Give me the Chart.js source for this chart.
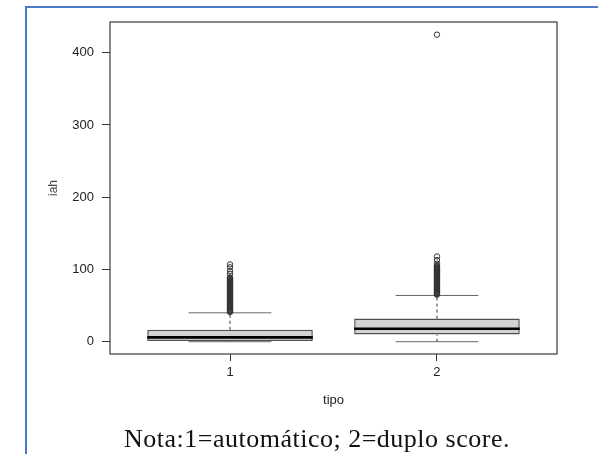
<!DOCTYPE html>
<html>
<head>
<meta charset="utf-8">
<script src="https://cdn.jsdelivr.net/npm/chart.js@4.4.0/dist/chart.umd.min.js"></script>
<style>
  html, body { margin: 0; padding: 0; background: #fff; }
  body { width: 598px; height: 454px; position: relative; overflow: hidden; }
  .frame { position: absolute; left: 25px; top: 6px; width: 600px; height: 460px;
           border-left: 2px solid #4a78cc; border-top: 2px solid #4a78cc; }
  #chart { position: absolute; left: 0; top: 0; }
  .nota { position: absolute; left: 0; width: 634px; top: 424px; text-align: center;
          font: 26px "Liberation Serif", serif; letter-spacing: 0.5px; color: #111; }
</style>
</head>
<body>
<div class="frame"></div>
<canvas id="chart" width="598" height="454"></canvas>
<div class="nota">Nota:1=automático; 2=duplo score.</div>
<script>
const categories = ['1', '2'];
const positions = [1, 2];
const whiskerLow = [0, 0];
const quart1 = [1, 10];
const medians = [6, 18];
const quart3 = [16.5, 32];
const whiskerHigh = [40, 64];
const outliers1 = [41, 42, 43, 44, 45, 46, 47, 48, 49, 50, 51, 52, 53, 54, 55, 56, 57, 58, 59, 60,
  61, 62, 63, 64, 65, 66, 67, 68, 69, 70, 71, 72, 73, 74, 75, 76, 77, 78, 79, 80,
  81, 82, 83, 84, 85, 86, 87, 88, 89, 94, 98, 103, 107];
const outliers2 = [65, 66, 67, 68, 69, 70, 71, 72, 73, 74, 75, 76, 77, 78, 79, 80, 81, 82, 83, 84,
  85, 86, 87, 88, 89, 90, 91, 92, 93, 94, 95, 96, 97, 98, 99, 100, 101, 102, 103, 104,
  105, 108, 113, 118, 425];
const yTicks = [0, 100, 200, 300, 400];

const boxHalf = 0.4;
const capHalf = 0.2;
const axisFont = { family: 'Liberation Sans', size: 13 };
const textColor = '#222';

// segments separated by a null point so each group is its own piece
const segs = (fn) => positions.flatMap((p, i) => [...fn(p, i), { x: p, y: null }]);

const medianData = segs((p, i) => [{ x: p - boxHalf, y: medians[i] }, { x: p + boxHalf, y: medians[i] }]);
const whiskerData = segs((p, i) => [
  { x: p, y: whiskerLow[i] }, { x: p, y: quart1[i] }, { x: p, y: null },
  { x: p, y: quart3[i] }, { x: p, y: whiskerHigh[i] }
]);
const capData = segs((p, i) => [
  { x: p - capHalf, y: whiskerLow[i] }, { x: p + capHalf, y: whiskerLow[i] }, { x: p, y: null },
  { x: p - capHalf, y: whiskerHigh[i] }, { x: p + capHalf, y: whiskerHigh[i] }
]);
const outlierData = [
  ...outliers1.map(v => ({ x: positions[0], y: v })),
  ...outliers2.map(v => ({ x: positions[1], y: v }))
];

const plotFrame = {
  id: 'plotFrame',
  afterDraw(chart) {
    const { ctx, chartArea: a } = chart;
    ctx.save();
    ctx.strokeStyle = '#3a3a3a';
    ctx.lineWidth = 1.2;
    ctx.strokeRect(a.left, a.top, a.right - a.left, a.bottom - a.top);
    ctx.restore();
  }
};

new Chart(document.getElementById('chart'), {
  type: 'scatter',
  data: {
    datasets: [
      {
        type: 'bar',
        data: positions.map((p, i) => ({ x: p, y: [quart1[i], quart3[i]] })),
        backgroundColor: '#d3d3d3',
        borderColor: '#505050',
        borderWidth: 1.5,
        borderSkipped: false,
        barPercentage: 0.8,
        categoryPercentage: 1,
        order: 5
      },
      {
        type: 'line', data: whiskerData, borderColor: '#333', borderWidth: 1,
        borderDash: [3, 3], pointRadius: 0, spanGaps: false, fill: false, order: 4
      },
      {
        type: 'line', data: capData, borderColor: '#666', borderWidth: 1,
        pointRadius: 0, spanGaps: false, fill: false, order: 3
      },
      {
        type: 'line', data: medianData, borderColor: '#000', borderWidth: 2.6,
        pointRadius: 0, spanGaps: false, fill: false, order: 1
      },
      {
        data: outlierData, pointStyle: 'circle', pointRadius: 2.7, borderWidth: 1,
        borderColor: '#333', backgroundColor: 'rgba(0,0,0,0)', order: 0
      }
    ]
  },
  options: {
    responsive: false,
    animation: false,
    devicePixelRatio: 1,
    layout: { padding: { left: 45, top: 22, right: 41, bottom: 44 } },
    plugins: { legend: { display: false }, tooltip: { enabled: false } },
    scales: {
      x: {
        type: 'linear', min: 0.42, max: 2.58, offset: false,
        afterBuildTicks: s => { s.ticks = positions.map(v => ({ value: v })); },
        afterFit: s => { s.height = 56; },
        ticks: {
          callback: v => categories[positions.indexOf(v)] ?? '',
          font: axisFont, color: textColor, padding: 4, maxRotation: 0, autoSkip: false
        },
        grid: { drawOnChartArea: false, drawTicks: true, tickLength: 7, color: '#333', offset: false },
        border: { display: false },
        title: { display: true, text: 'tipo', font: axisFont, color: textColor, padding: { top: 0, bottom: 2 } }
      },
      y: {
        min: -17, max: 442.5,
        afterBuildTicks: s => { s.ticks = yTicks.map(v => ({ value: v })); },
        afterFit: s => { s.width = 65; },
        ticks: { font: axisFont, color: textColor, padding: 8 },
        grid: { drawOnChartArea: false, drawTicks: true, tickLength: 8, color: '#333' },
        border: { display: false },
        title: { display: true, text: 'iah', font: { family: 'Liberation Sans', size: 12 }, color: '#444', padding: { top: 1, bottom: 0 } }
      }
    }
  },
  plugins: [plotFrame]
});
</script>
</body>
</html>
